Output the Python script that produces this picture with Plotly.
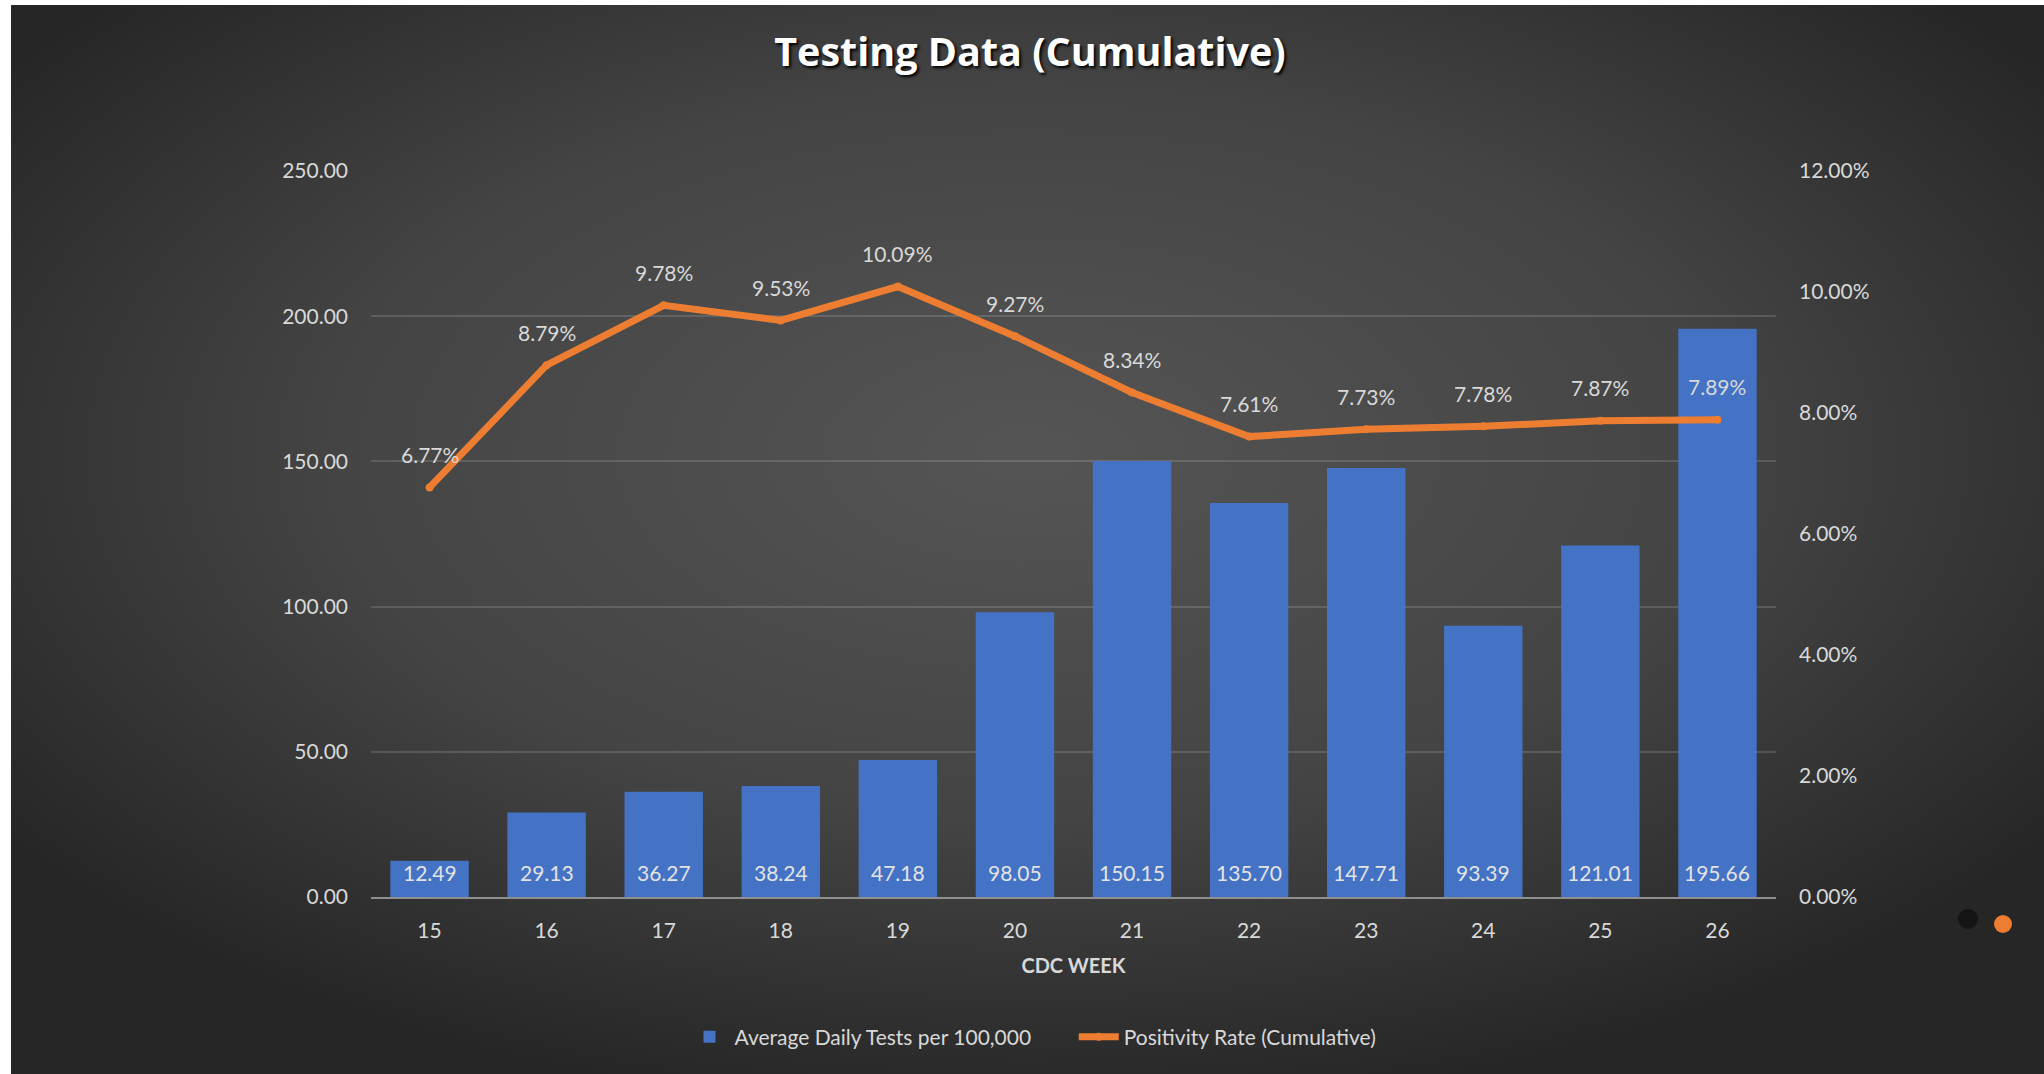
import base64
import plotly.graph_objects as go

# ---- data ----
weeks = [15, 16, 17, 18, 19, 20, 21, 22, 23, 24, 25, 26]
avg_daily_tests = [12.49, 29.13, 36.27, 38.24, 47.18, 98.05, 150.15, 135.70, 147.71, 93.39, 121.01, 195.66]
positivity_rate = [0.0677, 0.0879, 0.0978, 0.0953, 0.1009, 0.0927, 0.0834, 0.0761, 0.0773, 0.0778, 0.0787, 0.0789]

bar_name = "Average Daily Tests per 100,000"
line_name = "Positivity Rate (Cumulative)"
title_text = "Testing Data (Cumulative)"
x_title = "CDC WEEK"

# ---- layout geometry (pixels) ----
W, H = 2044, 1074
L, R, T, B = 371, 1776, 171, 897
pw, ph = R - L, B - T


def px_x(p):
    return (p - L) / pw


def px_y(p):
    return (B - p) / ph


FONT = "Lato, 'Open Sans', sans-serif"
TXT = "#d9d9d9"

fig = go.Figure()

fig.add_trace(go.Bar(
    x=weeks, y=avg_daily_tests, name=bar_name + "\u00a0" * 7,
    marker=dict(color="#4472C4", line=dict(width=0)),
    cliponaxis=False,
))

fig.add_trace(go.Scatter(
    x=weeks, y=positivity_rate, name=line_name, yaxis="y2",
    mode="lines+markers",
    line=dict(color="#ED7D31", width=7),
    marker=dict(color="#ED7D31", size=8),
    cliponaxis=False,
))

annotations = []
for wk, v in zip(weeks, avg_daily_tests):
    annotations.append(dict(
        x=wk, y=0, xref="x", yref="y", text=f"{v:.2f}",
        showarrow=False, yanchor="middle", yshift=25,
        font=dict(family=FONT, size=21, color="#e3e3e3"),
    ))
for wk, r in zip(weeks, positivity_rate):
    annotations.append(dict(
        x=wk, y=r, xref="x", yref="y2", text=f"{r*100:.2f}%",
        showarrow=False, yshift=33,
        font=dict(family=FONT, size=21, color=TXT),
    ))

svg = (
    "<svg xmlns='http://www.w3.org/2000/svg' width='2033' height='1069' preserveAspectRatio='none'>"
    "<defs><radialGradient id='g' cx='0.5' cy='0.42' r='0.62'>"
    "<stop offset='0' stop-color='#555555'/>"
    "<stop offset='0.55' stop-color='#444444'/>"
    "<stop offset='1' stop-color='#262626'/>"
    "</radialGradient></defs>"
    "<rect width='100%' height='100%' fill='url(#g)'/></svg>"
)
src = "data:image/svg+xml;base64," + base64.b64encode(svg.encode()).decode()

fig.update_layout(
    width=W, height=H,
    margin=dict(l=L, r=W - R, t=T, b=H - B, pad=0),
    paper_bgcolor="white",
    plot_bgcolor="rgba(0,0,0,0)",
    font=dict(family=FONT, color=TXT, size=21),
    title=dict(
        text=f"<b>{title_text}</b>",
        x=1030 / W, y=1 - 52 / H, xref="container", yref="container",
        xanchor="center", yanchor="middle",
        font=dict(family="'Open Sans', Lato, sans-serif", size=39.5, color="#ffffff",
                  shadow="2px 2px 3px #000000"),
    ),
    bargap=0.33,
    xaxis=dict(
        type="linear", range=[weeks[0] - 0.5, weeks[-1] + 0.5], dtick=1,
        showgrid=False, zeroline=False,
        showline=True, linecolor="#8f8f8f", linewidth=2,
        ticks="", ticklabelstandoff=14,
        tickfont=dict(family=FONT, size=21, color=TXT),
        title=dict(text=f"<b>{x_title}</b>", standoff=18,
                   font=dict(family=FONT, size=20, color=TXT)),
    ),
    yaxis=dict(
        range=[0, 250], dtick=50, tickformat=".2f",
        showgrid=True, gridcolor="rgba(255,255,255,0.14)", gridwidth=1.5,
        zeroline=False, showline=False, ticks="", ticklabelstandoff=22,
        tickfont=dict(family=FONT, size=21, color=TXT),
    ),
    yaxis2=dict(
        range=[0, 0.12], dtick=0.02, tickformat=".2%",
        overlaying="y", side="right", showgrid=False, zeroline=False,
        showline=False, ticks="", ticklabelstandoff=22,
        tickfont=dict(family=FONT, size=21, color=TXT),
    ),
    legend=dict(
        orientation="h", x=px_x(1033), y=px_y(1037),
        xanchor="center", yanchor="middle",
        font=dict(family=FONT, size=21, color=TXT),
        bgcolor="rgba(0,0,0,0)", itemwidth=40, tracegroupgap=0,
    ),
    annotations=annotations,
    images=[dict(
        source=src, xref="paper", yref="paper",
        x=px_x(11), y=px_y(5), sizex=(W - 11) / pw, sizey=(H - 5) / ph,
        xanchor="left", yanchor="top", sizing="stretch", layer="below",
    )],
    shapes=[
        dict(type="circle", xref="paper", yref="paper", xsizemode="pixel", ysizemode="pixel",
             xanchor=px_x(1968), yanchor=px_y(919), x0=-10, x1=10, y0=-10, y1=10,
             fillcolor="rgba(0,0,0,0.45)", line=dict(width=0), layer="above"),
        dict(type="circle", xref="paper", yref="paper", xsizemode="pixel", ysizemode="pixel",
             xanchor=px_x(2003), yanchor=px_y(924), x0=-9, x1=9, y0=-9, y1=9,
             fillcolor="#ED7D31", line=dict(width=0), layer="above"),
    ],
)

fig.write_html(
    "out.html",
    config={"displayModeBar": False},
    post_script="document.body.style.margin='0';document.body.style.overflow='hidden';",
)
